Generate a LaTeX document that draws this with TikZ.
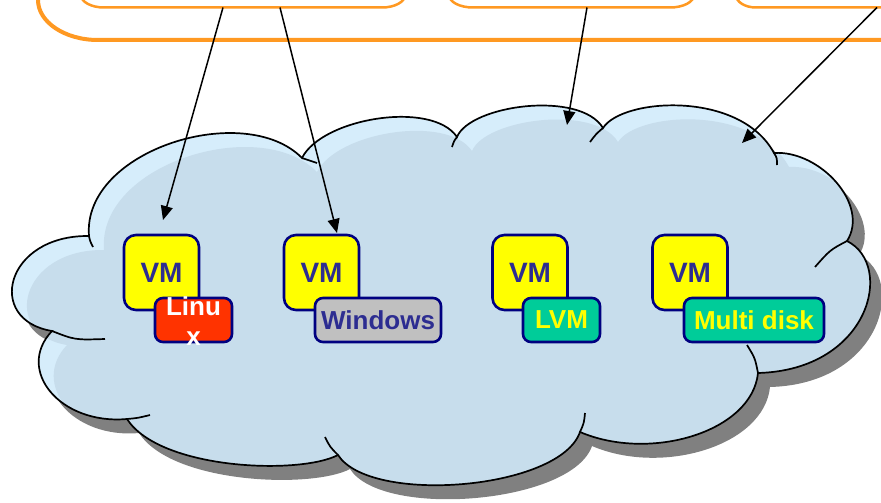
\documentclass[tikz,border=0pt]{standalone}
\usepackage{fontspec}
\setmainfont{Liberation Sans}
\usetikzlibrary{arrows.meta}
\definecolor{orng}{RGB}{255,153,34}
\definecolor{cloudlight}{RGB}{214,237,251}
\definecolor{cloudinner}{RGB}{199,221,236}
\definecolor{shadowgray}{RGB}{128,128,128}
\definecolor{vmyellow}{RGB}{255,255,0}
\definecolor{bordernavy}{RGB}{0,0,128}
\definecolor{vmtext}{RGB}{45,45,145}
\definecolor{linuxred}{RGB}{255,51,0}
\definecolor{wingray}{RGB}{192,192,192}
\definecolor{diskteal}{RGB}{0,204,153}
\begin{document}
\begin{tikzpicture}[x=1pt,y=-1pt,
  cloudpath/.style={insert path={(89,236) .. controls (82,150) and (245,100) .. (302,158)
     .. controls (322,118) and (432,100) .. (457,137)
     .. controls (470,105) and (580,90) .. (603,128)
     .. controls (622,98) and (740,90) .. (774,153)
     .. controls (820,150) and (870,205) .. (847,241)
     .. controls (895,265) and (870,370) .. (758,373)
     .. controls (752,432) and (650,462) .. (580,432)
     .. controls (560,490) and (370,505) .. (338,455)
     .. controls (300,475) and (160,470) .. (127,419)
     .. controls (60,425) and (15,370) .. (52,331)
     .. controls (-15,320) and (5,235) .. (89,236) -- cycle}},
  cloudline/.style={draw=black, line width=1.7pt},
  orangeline/.style={draw=orng, line cap=round},
  vmbox/.style={draw=bordernavy, line width=2.6pt, fill=vmyellow, rounded corners=12pt,
     minimum width=75pt, minimum height=75pt, inner sep=0pt, text=vmtext,
     font=\fontsize{28}{30}\selectfont\bfseries},
  lbox/.style={draw=bordernavy, line width=2.6pt, rounded corners=8pt,
     minimum height=44pt, inner sep=0pt, font=\fontsize{26}{30}\selectfont\bfseries},
  link/.style={draw=black, line width=1.5pt, -{Triangle[length=14pt,width=12pt]}}
]
\clip (0,0) rectangle (881,503);
\fill[white] (0,0) rectangle (881,503);

% top orange container (cut off)
\draw[orangeline, line width=4pt] (38,-30) -- (38,0)
  arc[start angle=180, end angle=90, x radius=60, y radius=40] -- (900,40);
\draw[orangeline, line width=2.5pt] (81,-20) -- (81,-5)
  arc[start angle=180, end angle=90, x radius=23, y radius=12.5] -- (382,7.5)
  arc[start angle=90, end angle=0, x radius=23, y radius=12.5] -- (405,-20);
\draw[orangeline, line width=2.5pt] (449,-20) -- (449,-5)
  arc[start angle=180, end angle=90, x radius=24, y radius=12.5] -- (670,7.5)
  arc[start angle=90, end angle=0, x radius=24, y radius=12.5] -- (694,-20);
\draw[orangeline, line width=2.5pt] (736,-20) -- (736,-5)
  arc[start angle=180, end angle=90, x radius=20, y radius=12.5] -- (900,7.5);

% cloud
\begin{scope}[shift={(12,14)}]
  \fill[shadowgray, cloudpath];
\end{scope}
\fill[cloudlight, cloudpath];
\begin{scope}
  \clip[cloudpath];
  \begin{scope}[shift={(15,14)}]
    \fill[cloudinner, cloudpath];
  \end{scope}
\end{scope}
\draw[cloudline, cloudpath];
% inner tails of the cloud outline
\draw[cloudline] (105,339) .. controls (75,340) .. (52,331);
\draw[cloudline] (150,415) .. controls (138,418) .. (127,419);
\draw[cloudline] (338,455) .. controls (330,447) .. (325,437);
\draw[cloudline] (580,432) .. controls (584,423) .. (585,413);
\draw[cloudline] (747,345) .. controls (755,358) .. (758,373);
\draw[cloudline] (815,267) .. controls (830,250) .. (847,241);
\draw[cloudline] (774,153) .. controls (777,158) .. (777,165);
\draw[cloudline] (590,142) .. controls (596,134) .. (603,128);
\draw[cloudline] (452,147) .. controls (454,141) .. (457,137);
\draw[cloudline] (302,158) .. controls (310,160) .. (317,163);
\draw[cloudline] (93,247) .. controls (90,241) .. (89,236);

% VMs
\node[vmbox] (vm1) at (161.5,272.5) {VM};
\node[vmbox] (vm2) at (321.5,272.5) {VM};
\node[vmbox] (vm3) at (530,272.5) {VM};
\node[vmbox] (vm4) at (690,272.5) {VM};

\node[lbox, fill=linuxred, minimum width=77pt] (linux) at (193.5,320) {};
\node[inner sep=0pt, align=center, text=white, font=\fontsize{26}{30}\selectfont\bfseries]
  (linuxtext) at (193.5,321) {Linu\\x};
\node[lbox, fill=wingray, text=vmtext, minimum width=126pt] (win) at (378,320) {Windows};
\node[lbox, fill=diskteal, text=vmyellow, minimum width=77pt] (lvm) at (561.5,320) {LVM};
\node[lbox, fill=diskteal, text=vmyellow, minimum width=140pt] (multi) at (754,320) {Multi disk};

% connectors
\coordinate (s1) at (223,7.5);
\coordinate (s2) at (280,7.5);
\coordinate (s3) at (587,7.5);
\coordinate (s4) at (877,7.5);
\coordinate (e1) at (163,220);
\coordinate (e2) at (337,233);
\coordinate (e3) at (567,125);
\coordinate (e4) at (742,143);
\draw[link] (s1) -- (e1);
\draw[link] (s2) -- (e2);
\draw[link] (s3) -- (e3);
\draw[link] (s4) -- (e4);
\end{tikzpicture}
\end{document}
